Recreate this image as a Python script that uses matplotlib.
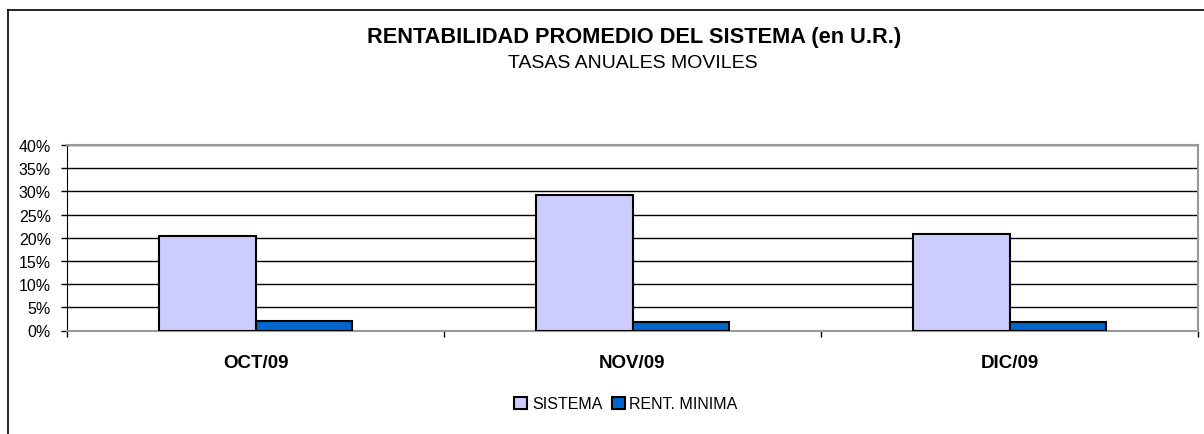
import numpy as np
import matplotlib
matplotlib.use("Agg")
import matplotlib.pyplot as plt
from matplotlib.lines import Line2D
from matplotlib.ticker import FixedLocator, PercentFormatter

plt.rcParams['font.family'] = ['Liberation Sans', 'DejaVu Sans']

categories = ["OCT/09", "NOV/09", "DIC/09"]
sistema = [20.4, 29.2, 20.8]
rent_minima = [2.0, 1.9, 1.9]
series_names = ["SISTEMA", "RENT. MINIMA"]
title = "RENTABILIDAD PROMEDIO DEL SISTEMA (en U.R.)"
subtitle = "TASAS ANUALES MOVILES"

W, H = 1204, 435
fig = plt.figure(figsize=(W / 100, H / 100), dpi=100)
ax = fig.add_axes([67 / W, 1 - 331.5 / H, (1198 - 67) / W, (331.5 - 146) / H])

x = np.arange(len(categories))
bw = 0.2565
ax.bar(x - bw / 2, sistema, bw, color="#CCCCFF", edgecolor="black", linewidth=1.5,
       label=series_names[0], zorder=3)
ax.bar(x + bw / 2, rent_minima, bw, color="#0066CC", edgecolor="black", linewidth=1.5,
       label=series_names[1], zorder=3)

ax.set_xlim(-0.5, len(categories) - 0.5)
ax.set_ylim(0, 40)
ax.set_yticks(np.arange(0, 41, 5))
ax.yaxis.set_major_formatter(PercentFormatter(decimals=0))
ax.yaxis.grid(True, color="black", linewidth=1)
ax.set_axisbelow(True)

ax.set_xticks(x)
ax.set_xticklabels(categories, fontsize=13.5, fontweight="bold")
ax.xaxis.set_minor_locator(FixedLocator(np.arange(-0.5, len(categories), 1.0)))
ax.tick_params(axis="x", which="major", length=0, pad=17)
ax.tick_params(axis="x", which="minor", length=4.5, width=1, color="black", direction="out")
ax.tick_params(axis="y", length=4.5, width=1, color="black", labelsize=11.5, pad=7)

for s in ["top", "right", "bottom"]:
    ax.spines[s].set_color("#999999")
    ax.spines[s].set_linewidth(1.5)
ax.spines["left"].set_color("black")

fig.text(634.5 / W, 1 - 38 / H, title, ha="center", va="center", fontsize=15.7, fontweight="bold")
fig.text(632.5 / W, 1 - 64 / H, subtitle, ha="center", va="center", fontsize=14)

fig.legend(loc="center", bbox_to_anchor=(626 / W, 1 - 405 / H), ncol=2, frameon=False,
           fontsize=11.5, handlelength=0.8, handleheight=0.8, handletextpad=0.3,
           columnspacing=0.6)

# outer chart frame (only left and top visible)
fig.add_artist(Line2D([8 / W, 8 / W], [0, 1 - 11 / H], color="black", linewidth=1.2))
fig.add_artist(Line2D([8 / W, 1], [1 - 11 / H, 1 - 11 / H], color="black", linewidth=1.2))

fig.savefig("out.png", dpi=100, facecolor="white")
